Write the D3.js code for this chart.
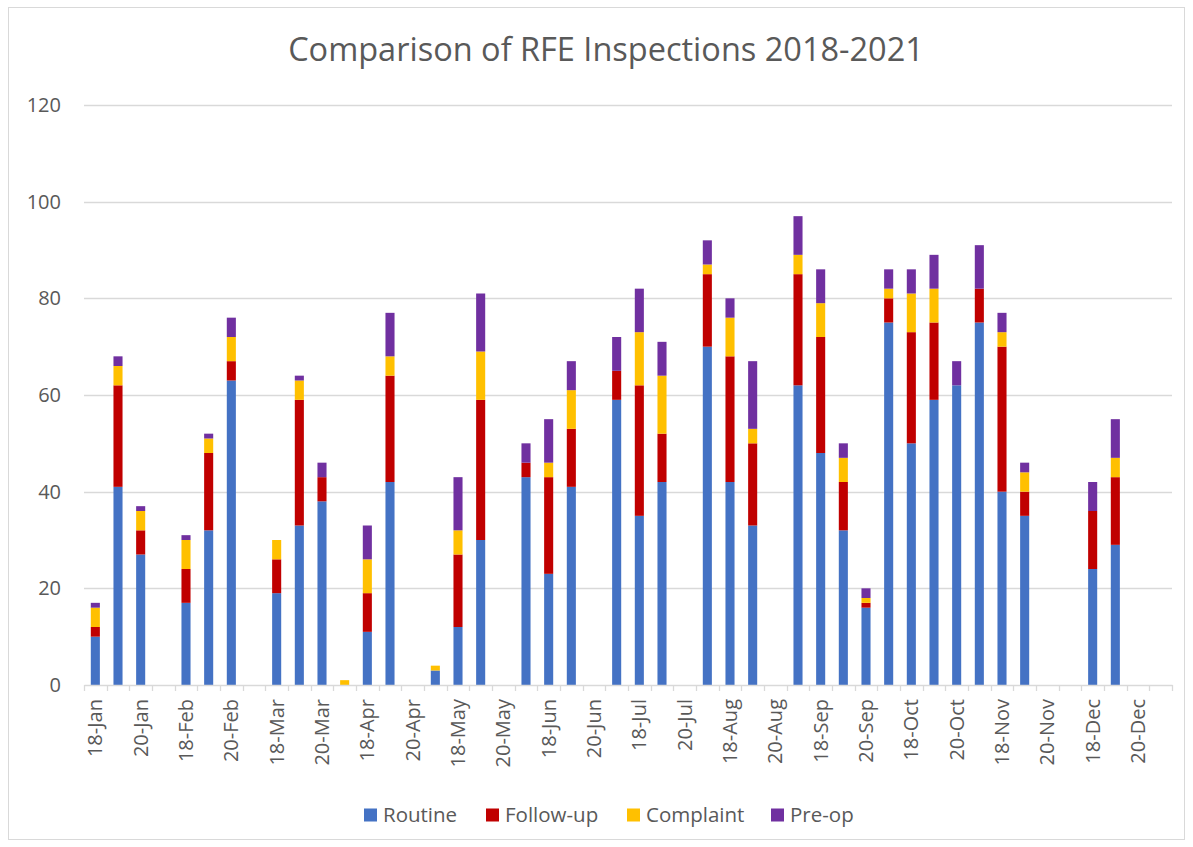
<!DOCTYPE html>
<html>
<head>
<meta charset="utf-8">
<script src="https://cdn.jsdelivr.net/npm/d3@7"></script>
<style>
  body { margin: 0; background: #fff; }
  svg { display: block; }
  text { font-family: "Open Sans", sans-serif; fill: #595959; }
</style>
</head>
<body>
<svg id="chart" width="1193" height="847"></svg>
<script>
const years = ["18", "19", "20", "21"];
const months = ["Jan","Feb","Mar","Apr","May","Jun","Jul","Aug","Sep","Oct","Nov","Dec"];
const categories = [];
months.forEach(m => years.forEach(y => categories.push(y + "-" + m)));

const seriesNames = ["Routine", "Follow-up", "Complaint", "Pre-op"];
const seriesColors = ["#4472C4", "#C00000", "#FFC000", "#7030A0"];

const routine = [10,41,27,0, 17,32,63,0, 19,33,38,0, 11,42,0,3, 12,30,0,43, 23,41,0,59,
                 35,42,0,70, 42,33,0,62, 48,32,16,75, 50,59,62,75, 40,35,0,0, 24,29,0,0];
const followUp = [2,21,5,0, 7,16,4,0, 7,26,5,0, 8,22,0,0, 15,29,0,3, 20,12,0,6,
                  27,10,0,15, 26,17,0,23, 24,10,1,5, 23,16,0,7, 30,5,0,0, 12,14,0,0];
const complaint = [4,4,4,0, 6,3,5,0, 4,4,0,1, 7,4,0,1, 5,10,0,0, 3,8,0,0,
                   11,12,0,2, 8,3,0,4, 7,5,1,2, 8,7,0,0, 3,4,0,0, 0,4,0,0];
const preOp = [1,2,1,0, 1,1,4,0, 0,1,3,0, 7,9,0,0, 11,12,0,4, 9,6,0,7,
               9,7,0,5, 4,14,0,8, 7,3,2,4, 5,7,5,9, 4,2,0,0, 6,8,0,0];
const yTicks = [0, 20, 40, 60, 80, 100, 120];

const rows = categories.map((c, i) => ({
  cat: c, "Routine": routine[i], "Follow-up": followUp[i], "Complaint": complaint[i], "Pre-op": preOp[i]
}));
const stacked = d3.stack().keys(seriesNames)(rows);

const svg = d3.select("#chart");
const pLeft = 84, pRight = 1172, pTop = 105, pBottom = 685;

// outer border
svg.append("rect").attr("x", 8.5).attr("y", 7.5).attr("width", 1176).attr("height", 832)
  .attr("fill", "#fff").attr("stroke", "#d9d9d9").attr("stroke-width", 1);

const xb = d3.scaleBand().domain(categories).range([pLeft, pRight]);
const y = d3.scaleLinear().domain([0, 120]).range([pBottom, pTop]);

// gridlines
svg.append("g").selectAll("line").data(yTicks.filter(t => t > 0)).join("line")
  .attr("x1", pLeft).attr("x2", pRight)
  .attr("y1", d => Math.round(y(d)) + 0.5).attr("y2", d => Math.round(y(d)) + 0.5)
  .attr("stroke", "#d9d9d9").attr("stroke-width", 1.3);

// y labels
svg.append("g").selectAll("text").data(yTicks).join("text")
  .attr("x", 61).attr("y", d => y(d)).attr("dy", "0.35em")
  .attr("text-anchor", "end").style("font-size", "20px").text(d => d);

// bars
const barW = xb.bandwidth() * 0.4;
svg.append("g").selectAll("g").data(stacked).join("g")
  .attr("fill", (d, i) => seriesColors[i])
  .selectAll("rect").data(d => d.filter(s => s[1] - s[0] > 0)).join("rect")
  .attr("x", d => xb(d.data.cat) + (xb.bandwidth() - barW) / 2)
  .attr("width", barW)
  .attr("y", d => y(d[1]))
  .attr("height", d => y(d[0]) - y(d[1]));

// x axis
const xAxis = d3.axisBottom(xb).tickSize(0).tickFormat("");
const axisG = svg.append("g").attr("transform", `translate(0,${pBottom})`).call(xAxis);
axisG.select(".domain").attr("stroke", "#d9d9d9").attr("stroke-width", 1.5);
// tick marks at category boundaries
const bounds = categories.map(c => xb(c)).concat([pRight]);
svg.append("g").selectAll("line").data(bounds).join("line")
  .attr("x1", d => Math.round(d) + 0.5).attr("x2", d => Math.round(d) + 0.5)
  .attr("y1", pBottom).attr("y2", pBottom + 6)
  .attr("stroke", "#d9d9d9").attr("stroke-width", 1.3);

// x labels every other category
svg.append("g").selectAll("text").data(categories.filter((c, i) => i % 2 === 0)).join("text")
  .attr("transform", d => `translate(${xb(d) + xb.bandwidth() / 2},${pBottom + 14}) rotate(-90)`)
  .attr("text-anchor", "end").attr("dy", "0.35em")
  .style("font-size", "20px").text(d => d);

// title
svg.append("text").attr("x", 606).attr("y", 50).attr("dy", "0.35em")
  .attr("text-anchor", "middle").style("font-size", "32.5px")
  .text("Comparison of RFE Inspections 2018-2021");

// legend
const legendX = [364, 486, 627, 771];
const lg = svg.append("g").selectAll("g").data(seriesNames).join("g")
  .attr("transform", (d, i) => `translate(${legendX[i]},815)`);
lg.append("rect").attr("x", 0).attr("y", -6.5).attr("width", 13).attr("height", 13)
  .attr("fill", (d, i) => seriesColors[i]);
lg.append("text").attr("x", 19).attr("dy", "0.35em").style("font-size", "20.5px").text(d => d);
</script>
</body>
</html>
